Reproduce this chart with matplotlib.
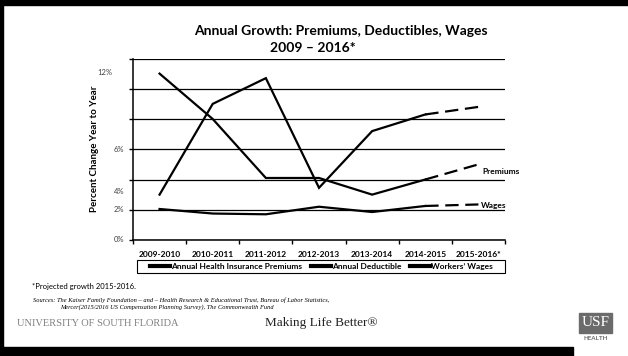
import matplotlib.pyplot as plt
from matplotlib.lines import Line2D
from matplotlib.patches import Rectangle

# ---- data ----
years = ["2009-2010", "2010-2011", "2011-2012", "2012-2013",
         "2013-2014", "2014-2015", "2015-2016*"]
premiums = [11.0, 8.0, 4.1, 4.1, 3.0, 4.0, 5.0]
deductible = [3.0, 9.0, 10.7, 3.45, 7.2, 8.3, 8.8]
wages = [2.05, 1.75, 1.7, 2.2, 1.85, 2.25, 2.35]

ytick_labels = ["0%", "2%", "4%", "6%", "12%"]
ytick_label_pos = [0, 2, 3.2, 6, 11.05]
ytick_label_x = [-0.67, -0.67, -0.67, -0.67, -0.89]

legend_names = ["Annual Health Insurance Premiums", "Annual Deductible",
                "Workers\u2019 Wages"]

body = ["Lato", "DejaVu Sans"]
W, H = 628, 356


def fx(px):
    return px / W


def fy(py):
    return 1 - py / H


fig = plt.figure(figsize=(6.28, 3.56), dpi=100)
fig.patch.set_facecolor("white")

# slide frame
fig.patches.append(Rectangle((0, fy(5)), 1, 5 / H, transform=fig.transFigure,
                             color="black", zorder=0))
fig.patches.append(Rectangle((0, 0), fx(3), 1, transform=fig.transFigure,
                             color="black", zorder=0))
fig.patches.append(Rectangle((0, 0), fx(573), 9 / H, transform=fig.transFigure,
                             color="black", zorder=0))

ax = fig.add_axes([fx(133), fy(240), fx(505 - 133), (240 - 58.5) / H])
x = list(range(len(years)))

for vals in (premiums, deductible, wages):
    ax.plot(x[:-1], vals[:-1], color="black", lw=1.6, solid_joinstyle="miter")
    ax.plot(x[-2:], vals[-2:], color="black", lw=1.6, dashes=(6, 3))

ax.set_xlim(-0.5, len(years) - 0.5)
ax.set_ylim(0, 12)
ax.set_yticks(range(0, 13, 2))
ax.set_yticklabels([])
ax.yaxis.grid(True, color="black", lw=0.9)
ax.set_axisbelow(True)
ax.tick_params(axis="y", length=3, width=1, color="black")
ax.tick_params(axis="x", length=3, width=1, color="black")
ax.set_xticks([i + 0.5 for i in range(-1, len(years))])
ax.set_xticklabels([])
ax.set_xticks(x, minor=True)
ax.set_xticklabels(years, minor=True, fontsize=6, fontweight="bold",
                   family=body)
ax.tick_params(axis="x", which="minor", length=0, pad=8)

for s in ("top", "right"):
    ax.spines[s].set_visible(False)
for s in ("left", "bottom"):
    ax.spines[s].set_linewidth(1.1)

for lab, pos, xp in zip(ytick_labels, ytick_label_pos, ytick_label_x):
    ax.text(xp, pos, lab, ha="right", va="center", fontsize=5.5,
            color="#404040", family=body, clip_on=False)

ax.set_ylabel("Percent Change Year to Year", fontsize=7, fontweight="bold",
              family=body, labelpad=18)

ax.text(6.08, 4.55, "Premiums", fontsize=6, fontweight="bold", family=body,
        va="center", ha="left")
ax.text(6.05, 2.3, "Wages", fontsize=6, fontweight="bold", family=body,
        va="center", ha="left")

# legend: entries spread across the box, frame drawn separately
handles = [Line2D([], [], color="black", lw=3) for _ in legend_names]
fig.legend(handles, legend_names, ncol=3, loc="center", mode="expand",
           bbox_to_anchor=(fx(150), fy(273), fx(493 - 150), 13 / H),
           frameon=False, handlelength=2.4, handletextpad=0.15,
           borderpad=0, borderaxespad=0,
           prop={"family": body, "weight": "bold", "size": 6})
fig.patches.append(Rectangle((fx(137), fy(273)), fx(505 - 137), 13 / H,
                             transform=fig.transFigure, fill=False,
                             edgecolor="black", lw=0.8))

# titles
fig.text(fx(341), fy(31), "Annual Growth: Premiums, Deductibles, Wages",
         ha="center", va="center", fontsize=10, fontweight="bold", family=body)
fig.text(fx(313), fy(48), "2009 \u2013 2016*", ha="center", va="center",
         fontsize=10, fontweight="bold", family=body)

# footnotes
fig.text(fx(32), fy(287), "*Projected growth 2015-2016.", fontsize=5.5,
         family=body, va="center")
fig.text(fx(33), fy(300), "Sources: The Kaiser Family Foundation \u2013 and \u2013 "
         "Health Research & Educational Trust, Bureau of Labor Statistics,",
         fontsize=4.6, style="italic", family="Liberation Serif", va="center")
fig.text(fx(60), fy(307), "Mercer(2015/2016 US Compensation Planning Survey), "
         "The Commonwealth Fund", fontsize=4.6, style="italic",
         family="Liberation Serif", va="center")

fig.text(fx(17), fy(324), "UNIVERSITY OF SOUTH FLORIDA", fontsize=7.5,
         family="Liberation Serif", color="#808080", va="center")
fig.text(fx(265), fy(323), "Making Life Better\u00ae", fontsize=9.5,
         family="Liberation Serif", color="#222222", va="center")

# logo
fig.patches.append(Rectangle((fx(579), fy(333)), fx(33), 20 / H,
                             transform=fig.transFigure, color="#6b6b6b"))
fig.text(fx(595.5), fy(323), "USF", fontsize=11, family="Liberation Serif",
         color="white", ha="center", va="center")
fig.text(fx(595.5), fy(339), "HEALTH", fontsize=4.5, family=body,
         color="#6b6b6b", ha="center", va="center", fontweight="bold")

fig.savefig("out.png", dpi=100)
